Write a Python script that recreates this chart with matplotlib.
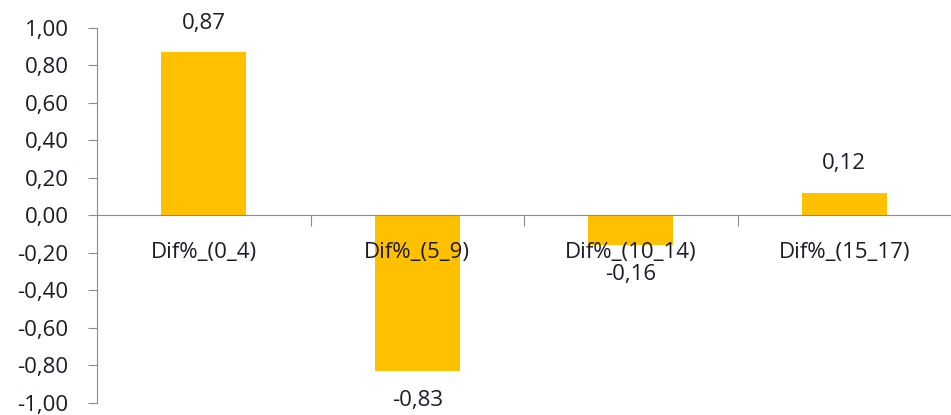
import numpy as np
import matplotlib.pyplot as plt
from matplotlib.ticker import FuncFormatter, FixedLocator

categories = ["Dif%_(0_4)", "Dif%_(5_9)", "Dif%_(10_14)", "Dif%_(15_17)"]
values = [0.87, -0.83, -0.16, 0.12]

plt.rcParams['font.family'] = ['Open Sans', 'DejaVu Sans']
text_color = "#1c1c28"
axis_color = "#8c8c8c"
fsize = 16


def comma(v, pos=None):
    v = round(v, 2) + 0.0
    if abs(v) < 1e-9:
        v = 0.0
    return ("%.2f" % v).replace(".", ",")


def main():
    fig = plt.figure(figsize=(9.51, 4.15), dpi=100)
    ax = fig.add_axes([0.102, 0.029, 0.898, 0.904])
    x = np.arange(len(categories))

    ax.bar(x, values, width=0.4, color="#FFC000", zorder=2)

    ax.set_xlim(-0.5, len(categories) - 0.5)
    ax.set_ylim(-1, 1)
    ax.set_yticks(np.arange(-1, 1.01, 0.2))
    ax.yaxis.set_major_formatter(FuncFormatter(comma))

    for s in ["top", "right"]:
        ax.spines[s].set_visible(False)
    ax.spines["bottom"].set_position(("data", 0))
    ax.spines["bottom"].set_color(axis_color)
    ax.spines["left"].set_color(axis_color)
    ax.spines["bottom"].set_zorder(3)

    ax.xaxis.set_major_locator(FixedLocator(x[:-1] + 0.5))
    ax.set_xticklabels([])
    ax.tick_params(axis="x", length=8, color=axis_color, direction="out")
    ax.tick_params(axis="y", length=6.5, color=axis_color, pad=14,
                   labelsize=fsize, labelcolor=text_color)

    for i, name in enumerate(categories):
        ax.annotate(name, (x[i], 0), xytext=(0, -27), textcoords="offset points",
                    ha="center", va="center", fontsize=fsize, color=text_color)

    for i, v in enumerate(values):
        off = 21 if v >= 0 else -21
        ax.annotate(comma(v), (x[i], v), xytext=(0, off), textcoords="offset points",
                    ha="center", va="center", fontsize=fsize, color=text_color)

    fig.savefig("out.png", dpi=100)


if __name__ == "__main__":
    main()
